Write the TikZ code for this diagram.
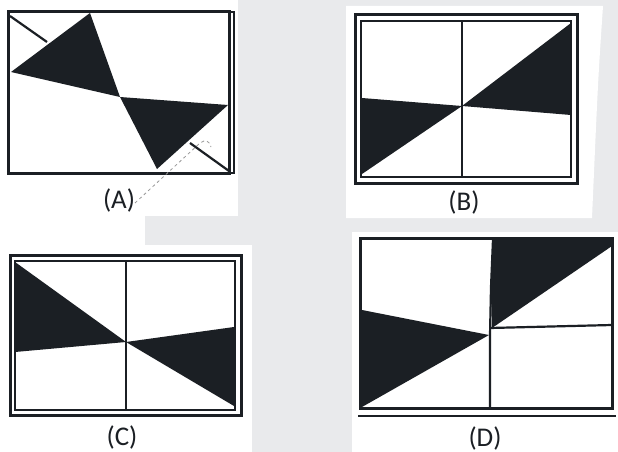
\documentclass[tikz,border=0pt]{standalone}
\usepackage{fontspec}
\setmainfont{Carlito}
\begin{document}
\begin{tikzpicture}[x=1pt,y=-1pt]
    \definecolor{wmgray}{HTML}{E9EAEC}
    \definecolor{ink}{HTML}{1B1F24}
    \tikzset{frame/.style={ink,line width=3pt},
             inner/.style={ink,line width=1.5pt},
             cut/.style={ink,line width=2.2pt},
             label/.style={font=\fontsize{27}{31}\selectfont,text=ink}}
    \useasboundingbox (0,0) rectangle (618,452);
    % watermark background
    \fill[wmgray] (0,0) rectangle (618,452);
    \fill[white] (0,0) rectangle (238,216);
    \fill[white] (0,216) rectangle (145,245);
    \fill[white] (0,245) rectangle (252,452);
    \fill[white] (346,6) -- (603,6) .. controls (598,80) .. (592,218) -- (346,218) -- cycle;
    \fill[white] (352,232) rectangle (618,452);
    % (A)
    \fill[ink] (90,13) -- (11,72) -- (120,97) -- cycle;
    \fill[ink] (120,97) -- (228,105) -- (157,169) -- cycle;
    \draw[cut] (10,16) -- (47,42);
    \draw[cut] (190,143) -- (229,171);
    \draw[frame] (8,12) rectangle (229,173);
    \draw[inner] (229,12) -- (234,12) -- (234,173) -- (229,173);
    \draw[gray!80,dashed,line width=0.8pt] (135,203) -- (200,143) .. controls (205,139) and (210,141) .. (211,147);
    \node[label] (labA) at (119,200) {(A)};
    % (B)
    \fill[ink] (362,98) -- (462,106) -- (362,174) -- cycle;
    \fill[ink] (462,106) -- (571,23) -- (571,115) -- cycle;
    \draw[cut] (462,21) -- (462,177);
    \draw[frame] (355,15) rectangle (577,183);
    \draw[inner] (361,21) rectangle (571,177);
    \node[label] (labB) at (464,202) {(B)};
    % (C)
    \fill[ink] (15,262) -- (126,342) -- (15,352) -- cycle;
    \fill[ink] (126,342) -- (234,327) -- (234,406) -- cycle;
    \draw[cut] (126,261) -- (126,410);
    \draw[frame] (10,255) rectangle (241,415);
    \draw[inner] (15,261) rectangle (235,410);
    \node[label] (labC) at (122,437) {(C)};
    % (D)
    \fill[ink] (493,239) -- (612,239) -- (612,246) -- (492,328) -- (491,287) -- cycle;
    \fill[ink] (362,310) -- (489,335) -- (362,407) -- cycle;
    \draw[cut] (493,239) -- (491,287) -- (490,335) -- (490,408);
    \draw[cut] (490,328) -- (612,325);
    \draw[frame] (360,238) rectangle (612,408);
    \draw[inner] (358,416) -- (616,416);
    \node[label] (labD) at (485,438) {(D)};
\end{tikzpicture}
\end{document}
